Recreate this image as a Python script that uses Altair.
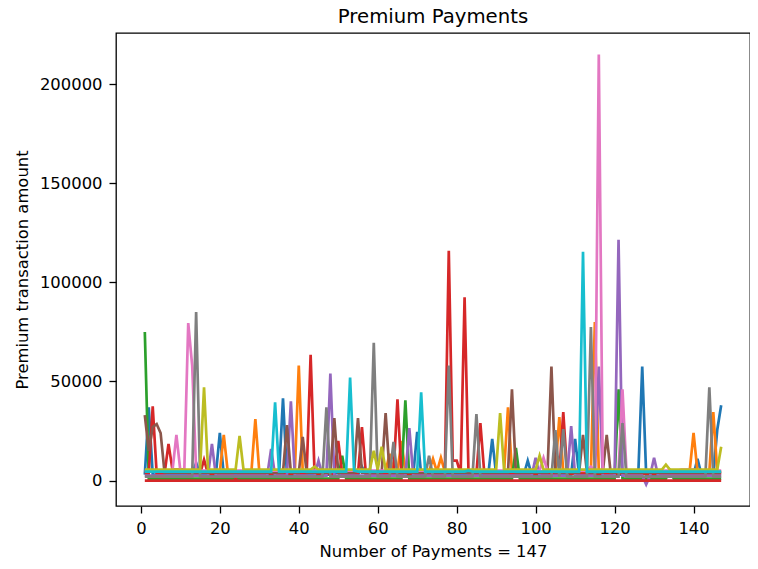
import altair as alt
import pandas as pd

# ---- data ----
n_payments = 147
payment_index = list(range(1, n_payments + 1))

series_names = ["s0", "s1", "s2", "s3", "s4", "s5", "s6", "s7", "s8", "s9", "s10"]
series_colors = ["#1f77b4", "#ff7f0e", "#2ca02c", "#d62728", "#9467bd",
                 "#8c564b", "#e377c2", "#7f7f7f", "#bcbd22", "#17becf", "#d62728"]
# resting level each series returns to between payments
baselines = [3000, 4500, 1000, 3500, 2500, 4000, 5000, 2000, 5500, 4500, 0]

# (payment number, amount) peaks per series
blue_peaks = [(2, 37000), (14, 9000), (20, 24000), (36, 41500), (50, 5000), (56, 7000),
              (70, 24500), (89, 21000), (98, 10000), (110, 21000), (127, 57500),
              (141, 11000), (146, 25500), (147, 38000)]
orange_peaks = [(21, 23000), (29, 31000), (40, 58000), (63, 13500), (66, 20000), (74, 11000),
                (76, 11500), (93, 37000), (106, 32000), (115, 80000), (140, 24000), (145, 34500)]
green_peaks = [(1, 75000), (51, 12500), (67, 40500), (95, 16500), (121, 46000), (134, 5000)]
red_peaks = [(3, 37500), (7, 18500), (8, 5500), (9, 5500), (10, 5500), (11, 5500),
             (16, 10500), (24, 1000), (43, 63500), (50, 20000), (56, 27000), (65, 41000),
             (78, 116000), (79, 10000), (80, 10000), (82, 92500), (86, 29000), (107, 34500)]
purple_peaks = [(18, 18500), (33, 16000), (38, 40000), (45, 10000), (48, 54000), (68, 26500),
                (100, 11500), (109, 27500), (116, 57500), (121, 121500), (128, -2000), (130, 11500)]
brown_peaks = [(1, 33000), (2, 15000), (3, 27000), (4, 28500), (5, 24000), (37, 28000),
               (41, 22000), (49, 31500), (55, 31500), (62, 34000), (94, 46000), (104, 57500),
               (112, 23000), (118, 23000)]
pink_peaks = [(9, 23000), (12, 79500), (13, 58000), (30, 5000), (102, 11500), (114, 7000),
              (116, 215000), (122, 46000), (137, 5500), (138, 5500), (139, 5500), (140, 5500)]
gray_peaks = [(14, 85000), (47, 37000), (59, 69500), (64, 19500), (73, 12500), (78, 58000),
              (85, 33500), (105, 25500), (107, 26000), (114, 77500), (122, 29000), (144, 47000)]
olive_peaks = [(16, 47000), (25, 22500), (44, 7000), (59, 15000), (61, 17000), (91, 34000),
               (101, 12500), (133, 8000), (147, 17000)]
cyan_peaks = [(34, 39500), (53, 52000), (54, 5000), (71, 44500), (83, 5000), (112, 115500)]
bottom_peaks = []  # the flat red line lying at zero

all_peaks = [blue_peaks, orange_peaks, green_peaks, red_peaks, purple_peaks,
             brown_peaks, pink_peaks, gray_peaks, olive_peaks, cyan_peaks, bottom_peaks]

x_ticks = [0, 20, 40, 60, 80, 100, 120, 140]
y_ticks = [0, 50000, 100000, 150000, 200000]

# ---- build the long table ----
rows = []
for k, (name, base, peaks) in enumerate(zip(series_names, baselines, all_peaks)):
    peak_map = dict(peaks)
    for i in payment_index:
        rows.append({"series": name, "order": k, "payment": i,
                     "amount": peak_map.get(i, base)})
df = pd.DataFrame(rows)

FONT = "DejaVu Sans"

chart = alt.Chart(df).mark_line(strokeWidth=2.7, clip=True).encode(
    x=alt.X("payment:Q",
            scale=alt.Scale(domain=[-6.3, 154.3], nice=False, zero=False),
            axis=alt.Axis(values=x_ticks, format="d", title="Number of Payments = 147",
                          titlePadding=7)),
    y=alt.Y("amount:Q",
            scale=alt.Scale(domain=[-12850, 225850], nice=False, zero=False),
            axis=alt.Axis(values=y_ticks, format="d", title="Premium transaction amount",
                          titlePadding=9)),
    color=alt.Color("series:N", scale=alt.Scale(domain=series_names, range=series_colors),
                    legend=None),
    order=alt.Order("payment:Q"),
).properties(
    width=634,
    height=473,
    title=alt.TitleParams("Premium Payments", fontSize=19.7, font=FONT,
                          fontWeight="normal", color="black", offset=6),
    autosize=alt.AutoSizeParams(type="none"),
    padding={"left": 108, "top": 25, "right": 0, "bottom": 58},
).configure_view(
    stroke="black", strokeWidth=1.3
).configure_axis(
    grid=False, domain=False,
    tickColor="black", tickSize=7, tickWidth=1.3,
    labelFont=FONT, labelFontSize=16.4, labelColor="black", labelPadding=7,
    titleFont=FONT, titleFontSize=16.4, titleColor="black", titleFontWeight="normal",
)

chart.save("out.html", embed_options={"renderer": "svg", "actions": False})
